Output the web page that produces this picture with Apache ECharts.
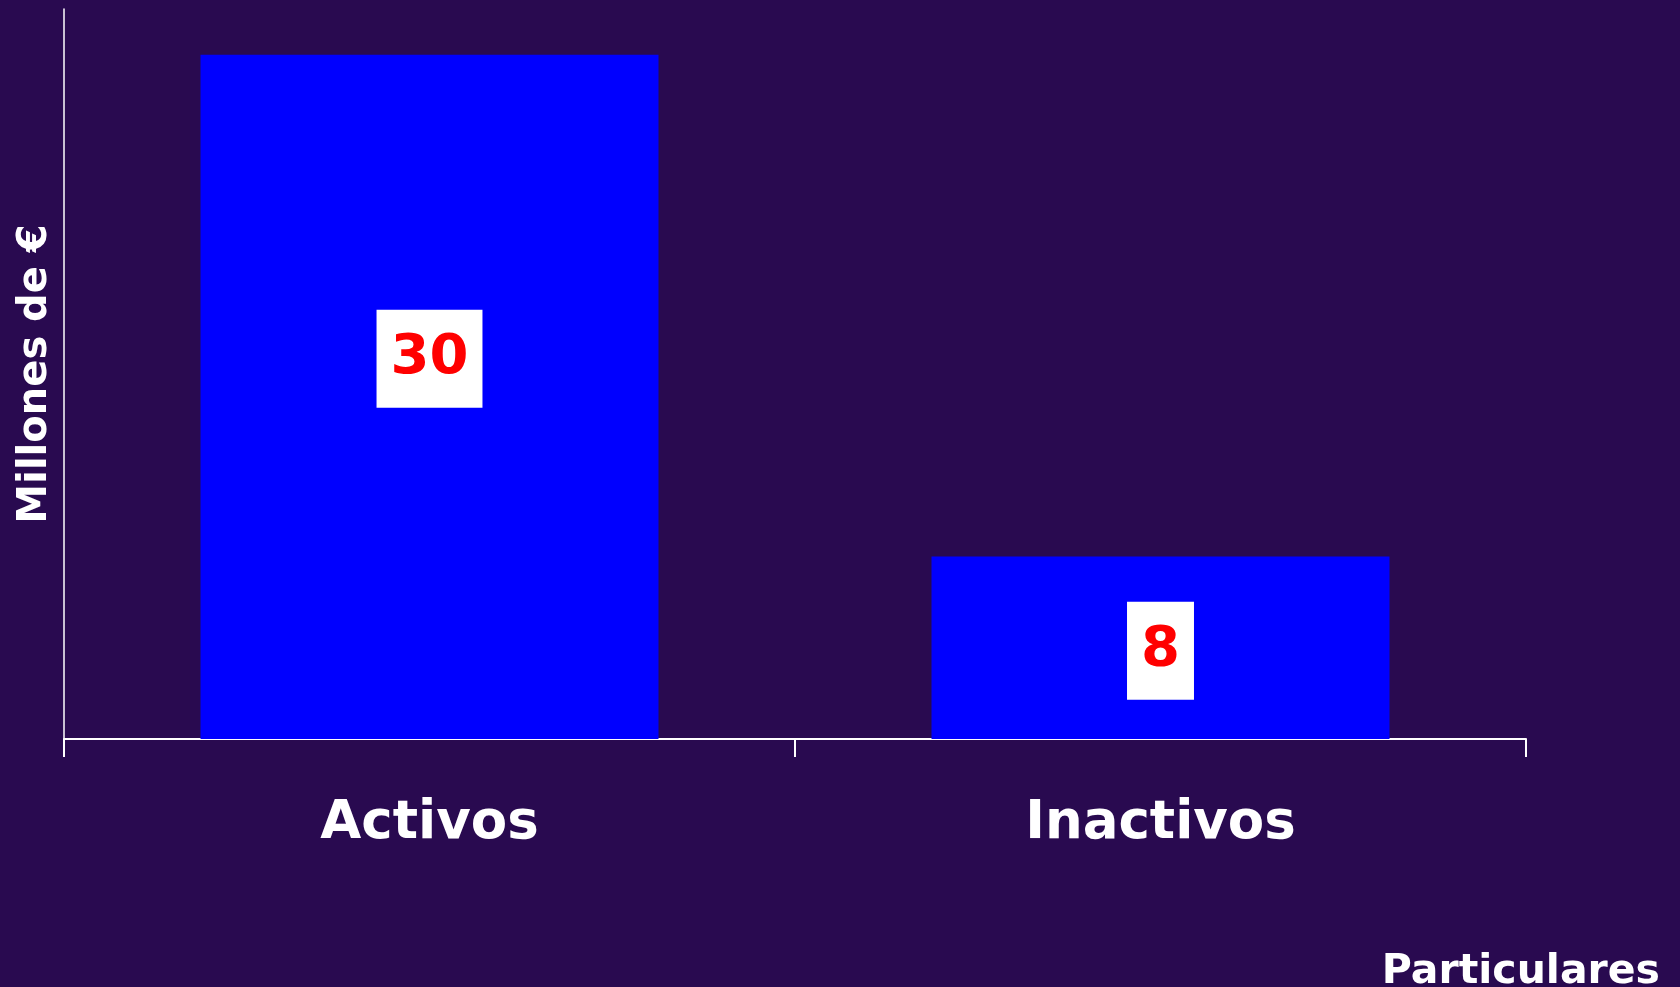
<!DOCTYPE html>
<html>
<head>
<meta charset="utf-8" />
<title>Particulares</title>
<script src="https://cdn.jsdelivr.net/npm/echarts@6/dist/echarts.min.js"></script>
<style>
  html, body { margin: 0; padding: 0; background: #290a50; }
  #chartmain { width: 1680px; height: 987px; }
</style>
</head>
<body>
<div id="chartmain"></div>
<script type="text/javascript">
  // datos
  var categorias = ['Activos', 'Inactivos'];
  var valores = [30, 8];
  var desplazamientoEtiqueta = [-38, 3]; // la etiqueta del 30 va algo más arriba

  var fuente = '"DejaVu Sans", Verdana, sans-serif';

  function init()
  {
    var myChart = echarts.init(document.getElementById('chartmain'));

    var datos = valores.map(function (v, i) {
      return {
        value: v,
        label: { offset: [0, desplazamientoEtiqueta[i]] }
      };
    });

    var option = {
      backgroundColor: '#290a50',
      animation: false,
      grid: {
        left: 64,
        right: 154,
        top: 9,
        bottom: 248,
        outerBoundsMode: 'none'
      },
      xAxis: {
        type: 'category',
        data: categorias,
        name: 'Particulares',
        nameLocation: 'end',
        nameGap: 134,
        nameTextStyle: {
          color: '#ffffff',
          fontFamily: fuente,
          fontWeight: 'bold',
          fontSize: 41,
          lineHeight: 41,
          align: 'right',
          verticalAlign: 'top',
          padding: [213, 0, 0, 0]
        },
        axisLine: { lineStyle: { color: '#ffffff', width: 2 } },
        axisTick: { show: true, length: 18, lineStyle: { color: '#ffffff', width: 2 } },
        axisLabel: {
          color: '#ffffff',
          fontFamily: fuente,
          fontWeight: 'bold',
          fontSize: 53,
          lineHeight: 53,
          margin: 59
        }
      },
      yAxis: {
        type: 'value',
        min: 0,
        max: 32,
        name: 'Millones de €',
        nameLocation: 'middle',
        nameRotate: 90,
        nameGap: 8,
        nameTextStyle: {
          color: '#ffffff',
          fontFamily: fuente,
          fontWeight: 'bold',
          fontSize: 40
        },
        axisLine: { show: true, lineStyle: { color: '#ffffff', width: 1.5 } },
        axisTick: { show: false },
        axisLabel: { show: false },
        splitLine: { show: false }
      },
      series: [
        {
          type: 'bar',
          data: datos,
          barWidth: 458,
          itemStyle: { color: '#0000ff' },
          label: {
            show: true,
            position: 'inside',
            color: '#ff0000',
            fontFamily: fuente,
            fontWeight: 'bold',
            fontSize: 56,
            lineHeight: 56,
            backgroundColor: '#ffffff',
            padding: [21, 14]
          }
        }
      ]
    };
    myChart.setOption(option);
  }
  window.addEventListener('load', init, false);
</script>
</body>
</html>
